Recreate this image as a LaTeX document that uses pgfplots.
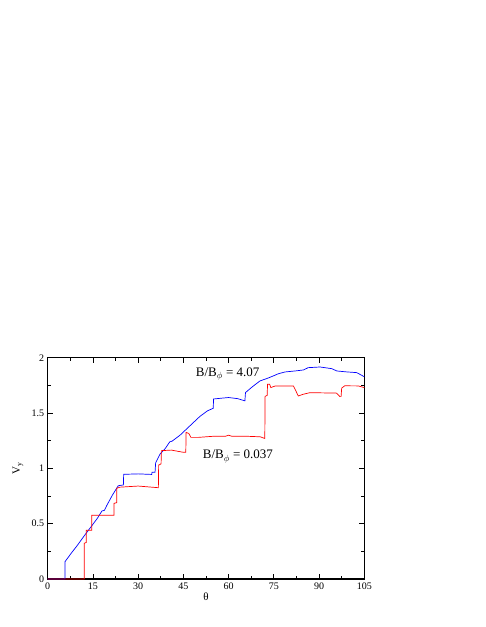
\documentclass[border=0pt]{standalone}
\usepackage{fontspec}
\setmainfont{Liberation Serif}
\usepackage{pgfplots}
\pgfplotsset{compat=1.18}
\begin{document}
\begin{tikzpicture}[x=1pt,y=1pt]
\useasboundingbox (0,0) rectangle (485,627);
\begin{axis}[
  at={(47.7pt,48pt)}, anchor=south west,
  width=316.6pt, height=221.3pt, scale only axis,
  xmin=0, xmax=105, ymin=0, ymax=2,
  xtick={0,15,...,105}, ytick={0,0.5,1,1.5,2},
  minor x tick num=1, minor y tick num=1,
  tick align=inside,
  major tick length=5pt, minor tick length=3pt,
  axis line style={line width=1.1pt},
  every tick/.style={black, line width=0.8pt},
  tick label style={font=\fontsize{10}{12}\selectfont},
  /pgf/number format/assume math mode=true,
  clip=false,
]
\addplot[blue, line width=0.7pt] coordinates {
 (0,0)(5.75,0)(5.75,0.157)(8,0.24)(10,0.31)(12.1,0.39)(14.6,0.48)
 (16.5,0.55)(18.0,0.615)(18.8,0.62)(19.6,0.665)(21.5,0.76)(23.4,0.843)
 (25.1,0.85)(25.2,0.946)(30,0.95)(34.5,0.945)(34.6,0.965)(35.6,0.965)
 (35.8,1.05)(37.2,1.127)(39,1.18)(40.5,1.24)(41.2,1.245)(43.9,1.30)
 (47,1.38)(50.5,1.47)(53,1.52)(54.9,1.543)(55.0,1.627)(58,1.635)
 (60,1.64)(63,1.63)(65.4,1.61)(65.6,1.685)(68,1.74)(70.4,1.79)
 (73,1.815)(74.8,1.835)(76.5,1.855)(78.7,1.871)(82,1.88)(84.8,1.889)
 (86.4,1.91)(90.3,1.916)(94.2,1.901)(95.9,1.88)(99,1.872)(102.5,1.865)
 (105,1.828)
};
\addplot[red, line width=0.7pt] coordinates {
 (0,0)(12.1,0)(12.1,0.323)(12.8,0.33)(12.8,0.44)(14.6,0.44)(14.6,0.576)
 (22.0,0.576)(22.0,0.684)(22.9,0.69)(22.9,0.82)(24,0.83)(30,0.84)
 (36.7,0.825)(36.8,1.03)(37.6,1.04)(37.7,1.16)(41,1.165)(45,1.145)
 (45.8,1.145)(45.9,1.325)(46.8,1.315)(47.5,1.28)(50,1.28)(55,1.29)
 (59,1.29)(60,1.3)(61,1.29)(66,1.29)(70.5,1.285)(72.0,1.27)(72.1,1.65)
 (72.8,1.66)(72.9,1.76)(73.6,1.76)(74,1.73)(75.4,1.744)(81.5,1.744)
 (82.3,1.70)(83.1,1.654)(84.8,1.67)(87,1.684)(95.8,1.68)(96.9,1.648)
 (97.3,1.648)(97.5,1.725)(98.5,1.746)(103,1.745)(105,1.73)
};
\node[anchor=base west, font=\fontsize{13}{15}\selectfont, inner sep=0pt]
  at (axis cs:49.1,1.828) {B/B$_\phi$ = 4.07};
\node[anchor=base west, font=\fontsize{13}{15}\selectfont, inner sep=0pt]
  at (axis cs:51.4,1.085) {B/B$_\phi$ = 0.037};
\end{axis}
\node[font=\fontsize{11}{13}\selectfont] at (206,30) {θ};
\node[rotate=90, font=\fontsize{11}{13}\selectfont] at (18,159) {V\textsubscript{y}};
\end{tikzpicture}
\end{document}
